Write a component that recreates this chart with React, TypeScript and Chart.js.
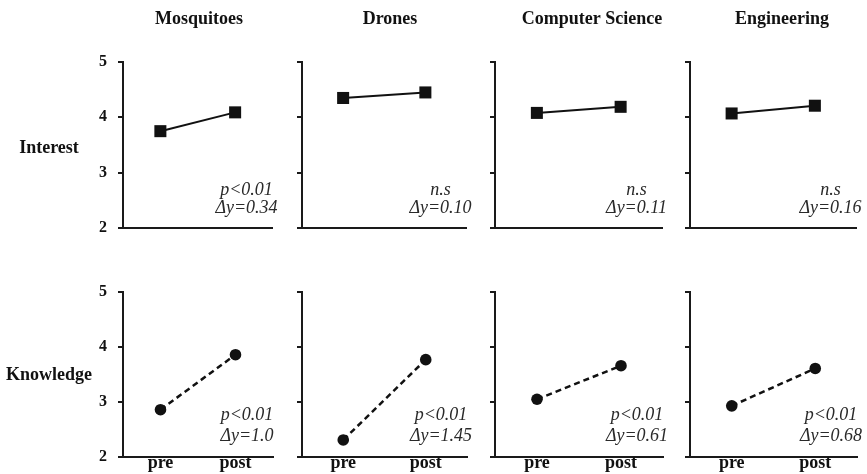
import React, { useEffect, useRef } from "react";
import { Chart, registerables } from "chart.js";

Chart.register(...registerables);

// ---- data ----
const subjects = ["Mosquitoes", "Drones", "Computer Science", "Engineering"];
const measures = ["Interest", "Knowledge"];
const phases = ["pre", "post"];
const yTickValues = [2, 3, 4, 5];

const interestPre = [3.75, 4.35, 4.08, 4.07];
const interestPost = [4.09, 4.45, 4.19, 4.21];
const knowledgePre = [2.86, 2.31, 3.05, 2.93];
const knowledgePost = [3.86, 3.77, 3.66, 3.61];

const interestSig = ["p<0.01", "n.s", "n.s", "n.s"];
const interestDelta = ["Δy=0.34", "Δy=0.10", "Δy=0.11", "Δy=0.16"];
const knowledgeSig = ["p<0.01", "p<0.01", "p<0.01", "p<0.01"];
const knowledgeDelta = ["Δy=1.0", "Δy=1.45", "Δy=0.61", "Δy=0.68"];

// ---- layout ----
const FONT = '"Liberation Serif", "Times New Roman", serif';
const INK = "#111";
const colAxisX = [123, 302, 495, 690];
const colPlotW = [150, 165, 168, 167];
const titleX = [199, 390, 592, 782];
const rowTop = [62, 292];
const rowBottom = [228, 457];
const rowLabelBase = [153, 380];
const noteOffsets = [
  [33, 15],
  [37, 16],
];

function Panel({ r, c }: { r: number; c: number }) {
  const ref = useRef<HTMLCanvasElement | null>(null);
  const axisX = colAxisX[c];
  const plotW = colPlotW[c];
  const canvasLeft = c === 0 ? 0 : axisX - 30;
  const L = axisX - canvasLeft;
  const canvasTop = r === 0 ? 0 : 272;
  const T = rowTop[r] - canvasTop;
  const B = r === 0 ? 12 : 17;
  const R = 8;
  const plotH = rowBottom[r] - rowTop[r];
  const width = L + plotW + R;
  const height = T + plotH + B;

  useEffect(() => {
    if (!ref.current) return;
    const pre = r === 0 ? interestPre : knowledgePre;
    const post = r === 0 ? interestPost : knowledgePost;
    const sig = r === 0 ? interestSig : knowledgeSig;
    const delta = r === 0 ? interestDelta : knowledgeDelta;

    const textPlugin = {
      id: "panelText",
      afterDraw(chart: any) {
        const ctx = chart.ctx;
        const ca = chart.chartArea;
        ctx.save();
        ctx.textBaseline = "alphabetic";
        if (r === 0) {
          ctx.font = `bold 18px ${FONT}`;
          ctx.fillStyle = INK;
          ctx.textAlign = "center";
          ctx.fillText(subjects[c], titleX[c] - canvasLeft, 24 - canvasTop);
        }
        if (c === 0) {
          ctx.font = `bold 18px ${FONT}`;
          ctx.fillStyle = INK;
          ctx.textAlign = "center";
          ctx.fillText(measures[r], 49, rowLabelBase[r] - canvasTop);
        }
        ctx.font = `italic 18px ${FONT}`;
        ctx.fillStyle = "#2a2a2a";
        ctx.textAlign = "center";
        const cx = ca.right - 26;
        ctx.fillText(sig[c], cx, ca.bottom - noteOffsets[r][0]);
        ctx.fillText(delta[c], cx, ca.bottom - noteOffsets[r][1]);
        ctx.restore();
      },
    };

    const chart = new Chart(ref.current, {
      type: "line",
      data: {
        datasets: [
          {
            data: [
              { x: 0, y: pre[c] },
              { x: 1, y: post[c] },
            ],
            borderColor: INK,
            borderWidth: r === 0 ? 2 : 2.5,
            borderDash: r === 0 ? [] : [6, 4],
            pointStyle: r === 0 ? "rect" : "circle",
            pointRadius: r === 0 ? 8.5 : 5.8,
            pointBackgroundColor: INK,
            pointBorderColor: INK,
            pointBorderWidth: 0,
            tension: 0,
            clip: false as any,
          },
        ],
      },
      options: {
        responsive: false,
        animation: false,
        devicePixelRatio: 1,
        layout: { padding: { top: T, right: R, left: 0, bottom: 0 } },
        plugins: {
          legend: { display: false },
          tooltip: { enabled: false },
          title: { display: false },
        },
        scales: {
          x: {
            type: "linear",
            min: -0.5,
            max: 1.5,
            afterBuildTicks: (s: any) => {
              s.ticks = [{ value: 0 }, { value: 1 }];
            },
            afterFit: (s: any) => {
              s.height = B;
              s.paddingLeft = 0;
              s.paddingRight = 0;
            },
            ticks: {
              display: r === 1,
              autoSkip: false,
              maxRotation: 0,
              padding: -4,
              color: INK,
              font: { family: FONT, weight: "bold", size: 18 },
              callback: (v: any) => phases[v as number] ?? "",
            },
            grid: { display: false, drawTicks: false },
            border: { display: true, color: "#1a1a1a", width: 2 },
          },
          y: {
            type: "linear",
            min: 2,
            max: 5,
            afterBuildTicks: (s: any) => {
              s.ticks = yTickValues.map((v) => ({ value: v }));
            },
            afterFit: (s: any) => {
              s.width = L;
              s.paddingTop = 0;
              s.paddingBottom = 0;
            },
            ticks: {
              display: c === 0,
              padding: 11,
              color: INK,
              font: { family: FONT, weight: "bold", size: 16 },
            },
            grid: {
              display: true,
              drawOnChartArea: false,
              drawTicks: true,
              tickLength: 5,
              color: "#1a1a1a",
              lineWidth: 2,
            },
            border: { display: true, color: "#1a1a1a", width: 2 },
          },
        },
      } as any,
      plugins: [textPlugin],
    });
    return () => chart.destroy();
  }, [r, c]);

  return (
    <canvas
      ref={ref}
      width={width}
      height={height}
      style={{
        position: "absolute",
        left: canvasLeft,
        top: canvasTop,
        width,
        height,
      }}
    />
  );
}

export default function App() {
  const panels = [];
  for (let r = 0; r < 2; r++) {
    for (let c = 0; c < 4; c++) {
      panels.push(<Panel key={`${r}-${c}`} r={r} c={c} />);
    }
  }
  return (
    <div
      style={{
        position: "absolute",
        left: 0,
        top: 0,
        width: 867,
        height: 474,
        background: "#fff",
        overflow: "hidden",
      }}
    >
      {panels}
    </div>
  );
}
